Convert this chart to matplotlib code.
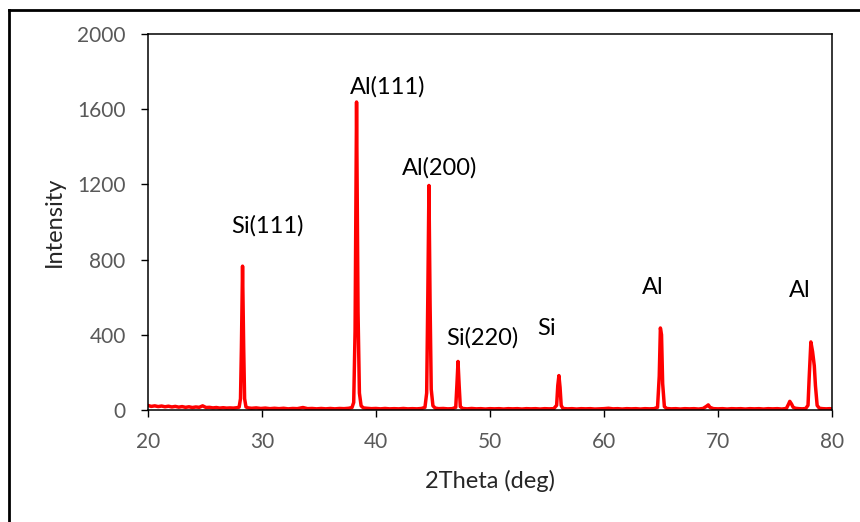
import matplotlib
matplotlib.use("Agg")
import matplotlib.pyplot as plt
from matplotlib.lines import Line2D

# ====== Data ======
two_theta = [
    20.0, 20.3, 20.6, 20.9, 21.2, 21.5, 21.8, 22.1, 22.4, 22.7, 23.0, 23.3, 23.6,
    23.9, 24.2, 24.5, 24.8, 25.1, 25.4, 25.7, 26.0, 26.3, 26.6, 26.9, 27.2, 27.5,
    27.8, 28.0, 28.12, 28.2, 28.3, 28.4, 28.48, 28.6, 28.8, 29.1, 29.5, 29.9, 30.3,
    30.7, 31.1, 31.5, 31.9, 32.3, 32.7, 33.1, 33.6, 34.0, 34.4, 34.8, 35.2, 35.6,
    36.0, 36.4, 36.8, 37.2, 37.6, 37.9, 38.05, 38.17, 38.3, 38.43, 38.55, 38.7,
    38.9, 39.2, 39.6, 40.0, 40.4, 40.8, 41.2, 41.6, 42.0, 42.4, 42.8, 43.2, 43.6,
    44.0, 44.3, 44.45, 44.55, 44.65, 44.75, 44.85, 45.0, 45.2, 45.5, 45.9, 46.3,
    46.7, 47.0, 47.1, 47.2, 47.3, 47.4, 47.6, 48.0, 48.4, 48.8, 49.2, 49.6, 50.0,
    50.4, 50.8, 51.2, 51.6, 52.0, 52.4, 52.8, 53.2, 53.6, 54.0, 54.4, 54.8, 55.2,
    55.6, 55.85, 55.95, 56.05, 56.15, 56.25, 56.4, 56.8, 57.2, 57.6, 58.0, 58.4,
    58.8, 59.2, 59.6, 60.0, 60.4, 60.8, 61.2, 61.6, 62.0, 62.4, 62.8, 63.2, 63.6,
    64.0, 64.4, 64.7, 64.85, 64.95, 65.05, 65.15, 65.3, 65.5, 65.9, 66.3, 66.7,
    67.1, 67.5, 67.9, 68.3, 68.7, 69.0, 69.15, 69.3, 69.6, 70.0, 70.4, 70.8, 71.2,
    71.6, 72.0, 72.4, 72.8, 73.2, 73.6, 74.0, 74.4, 74.8, 75.2, 75.6, 76.0, 76.2,
    76.3, 76.45, 76.6, 76.8, 77.1, 77.4, 77.7, 77.9, 78.0, 78.15, 78.3, 78.45,
    78.55, 78.7, 78.9, 79.2, 79.5, 79.8, 80.0,
]
intensity = [
    24, 19, 22, 18, 21, 17, 20, 16, 19, 15, 18, 14, 17,
    13, 16, 14, 22, 13, 14, 11, 13, 10, 12, 10, 11, 10,
    12, 15, 60, 330, 765, 330, 60, 16, 11, 9, 11, 8, 10,
    7, 9, 7, 9, 6, 8, 7, 13, 7, 8, 6, 8, 6,
    8, 6, 8, 7, 9, 13, 40, 420, 1638, 520, 90, 22,
    11, 9, 7, 8, 6, 8, 6, 7, 6, 8, 6, 7, 6,
    8, 14, 90, 600, 1194, 560, 110, 22, 10, 7, 8, 6,
    7, 14, 130, 258, 130, 18, 8, 6, 8, 6, 7, 5, 7,
    6, 7, 5, 7, 6, 7, 5, 7, 6, 7, 5, 7, 6,
    7, 25, 130, 183, 120, 24, 8, 6, 7, 5, 7, 6,
    7, 5, 6, 7, 9, 6, 7, 5, 7, 6, 7, 5, 7,
    6, 7, 14, 180, 436, 400, 140, 18, 8, 6, 7, 5,
    7, 6, 7, 5, 8, 20, 27, 14, 7, 6, 7, 5, 7,
    6, 7, 5, 7, 6, 7, 5, 7, 6, 7, 5, 8, 32,
    46, 32, 14, 9, 7, 6, 8, 25, 170, 362, 310, 235,
    130, 24, 9, 7, 6, 7, 6,
]

peak_labels = ["Si(111)", "Al(111)", "Al(200)", "Si(220)", "Si", "Al", "Al"]
label_x = [30.5, 41.0, 45.6, 49.3, 55.0, 64.3, 77.2]
label_y = [980, 1718, 1287, 383, 436, 654, 638]

x_ticks = [20, 30, 40, 50, 60, 70, 80]
y_ticks = [0, 400, 800, 1200, 1600, 2000]

# ====== Plot ======
plt.rcParams["font.family"] = ["Lato", "DejaVu Sans"]

fig = plt.figure(figsize=(8.6, 5.22), dpi=100)
ax = fig.add_axes([0.172, 0.2146, 0.7954, 0.7203])

ax.plot(two_theta, intensity, color="#ff0000", linewidth=2.5)

for text, lx, ly in zip(peak_labels, label_x, label_y):
    ax.text(lx, ly, text, ha="center", va="center", fontsize=17, color="black")

ax.set_xlim(20, 80)
ax.set_ylim(0, 2000)
ax.set_xticks(x_ticks)
ax.set_yticks(y_ticks)
ax.tick_params(direction="out", length=5, width=1, colors="black",
               labelcolor="#595959", labelsize=15)
ax.tick_params(axis="x", pad=11)
ax.tick_params(axis="y", pad=11)
for spine in ax.spines.values():
    spine.set_linewidth(1.1)
    spine.set_color("black")

ax.set_xlabel("2Theta (deg)", fontsize=17, color="#262626", labelpad=13)
ax.set_ylabel("Intensity", fontsize=17, color="#262626", labelpad=9)

# outer frame (only top and left edges visible in the crop)
fig.add_artist(Line2D([9 / 860, 9 / 860], [0, 1 - 9.5 / 522],
                      transform=fig.transFigure, color="black", linewidth=2))
fig.add_artist(Line2D([9 / 860, 1], [1 - 9.5 / 522, 1 - 9.5 / 522],
                      transform=fig.transFigure, color="black", linewidth=2))

fig.savefig("out.png", dpi=100)
